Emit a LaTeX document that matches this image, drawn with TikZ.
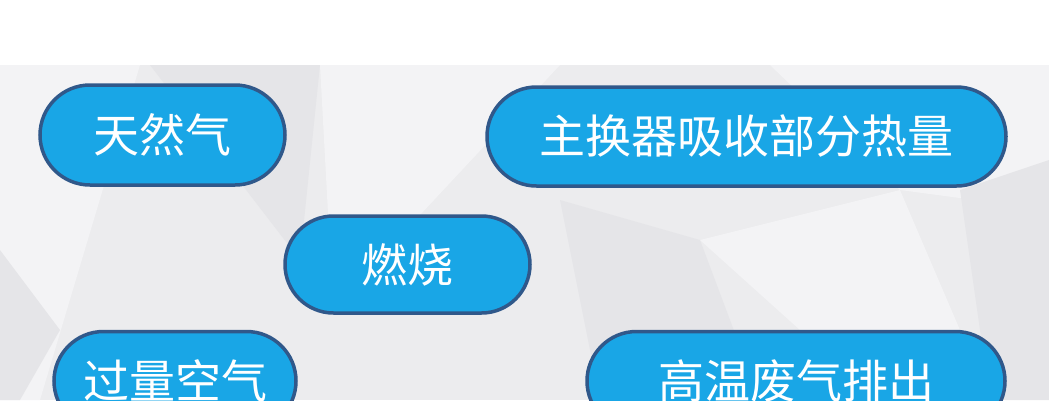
\documentclass[tikz,border=0pt]{standalone}
\usepackage{fontspec}
\newfontfamily\cjk{Noto Sans CJK SC}
\usetikzlibrary{shapes.misc}
\definecolor{pillfill}{RGB}{25,166,230}
\definecolor{pillline}{RGB}{48,88,138}
\definecolor{bgbase}{RGB}{236,236,238}
\definecolor{bglight}{RGB}{243,243,245}
\definecolor{bgdark}{RGB}{229,229,232}
\begin{document}
\begin{tikzpicture}[x=1pt,y=-1pt,
  pill/.style={rounded rectangle, draw=pillline, line width=3.5pt, fill=pillfill,
    text=white, font=\cjk\fontsize{46}{50}\selectfont, inner sep=0pt, minimum height=99pt},
  facetlight/.style={fill=bglight},
  facetdark/.style={fill=bgdark}]
\useasboundingbox (0,0) rectangle (1049,400);
\fill[white] (0,0) rectangle (1049,65);
\fill[bgbase] (0,65) rectangle (1049,400);
% background facets
\fill[facetlight] (0,65) -- (140,65) -- (40,400) -- (0,400) -- cycle;
\fill[facetdark] (150,65) -- (320,65) -- (300,260) -- cycle;
\fill[facetlight] (320,65) -- (560,65) -- (420,215) -- (330,250) -- cycle;
\fill[facetlight] (770,65) -- (1049,65) -- (1049,210) -- (900,190) -- cycle;
\fill[facetdark] (560,200) -- (700,240) -- (760,400) -- (600,400) -- cycle;
\fill[facetdark] (960,190) -- (1049,160) -- (1049,400) -- (990,400) -- cycle;
\fill[facetlight] (700,240) -- (900,190) -- (960,330) -- (800,330) -- cycle;
\fill[facetdark] (0,250) -- (60,330) -- (20,400) -- (0,400) -- cycle;
% pills
\node[pill, minimum width=245pt, minimum height=100pt] (gas) at (162.5,135) {天然气};
\node[pill, minimum width=245pt, minimum height=97pt] (burn) at (407.5,264.5) {燃烧};
\node[pill, minimum width=519pt] (heat) at (746.5,136.5) {主换器吸收部分热量};
\node[pill, minimum width=242pt] (air) at (175,381) {过量空气};
\node[pill, minimum width=418pt] (exhaust) at (796,381) {高温废气排出};
\end{tikzpicture}
\end{document}
